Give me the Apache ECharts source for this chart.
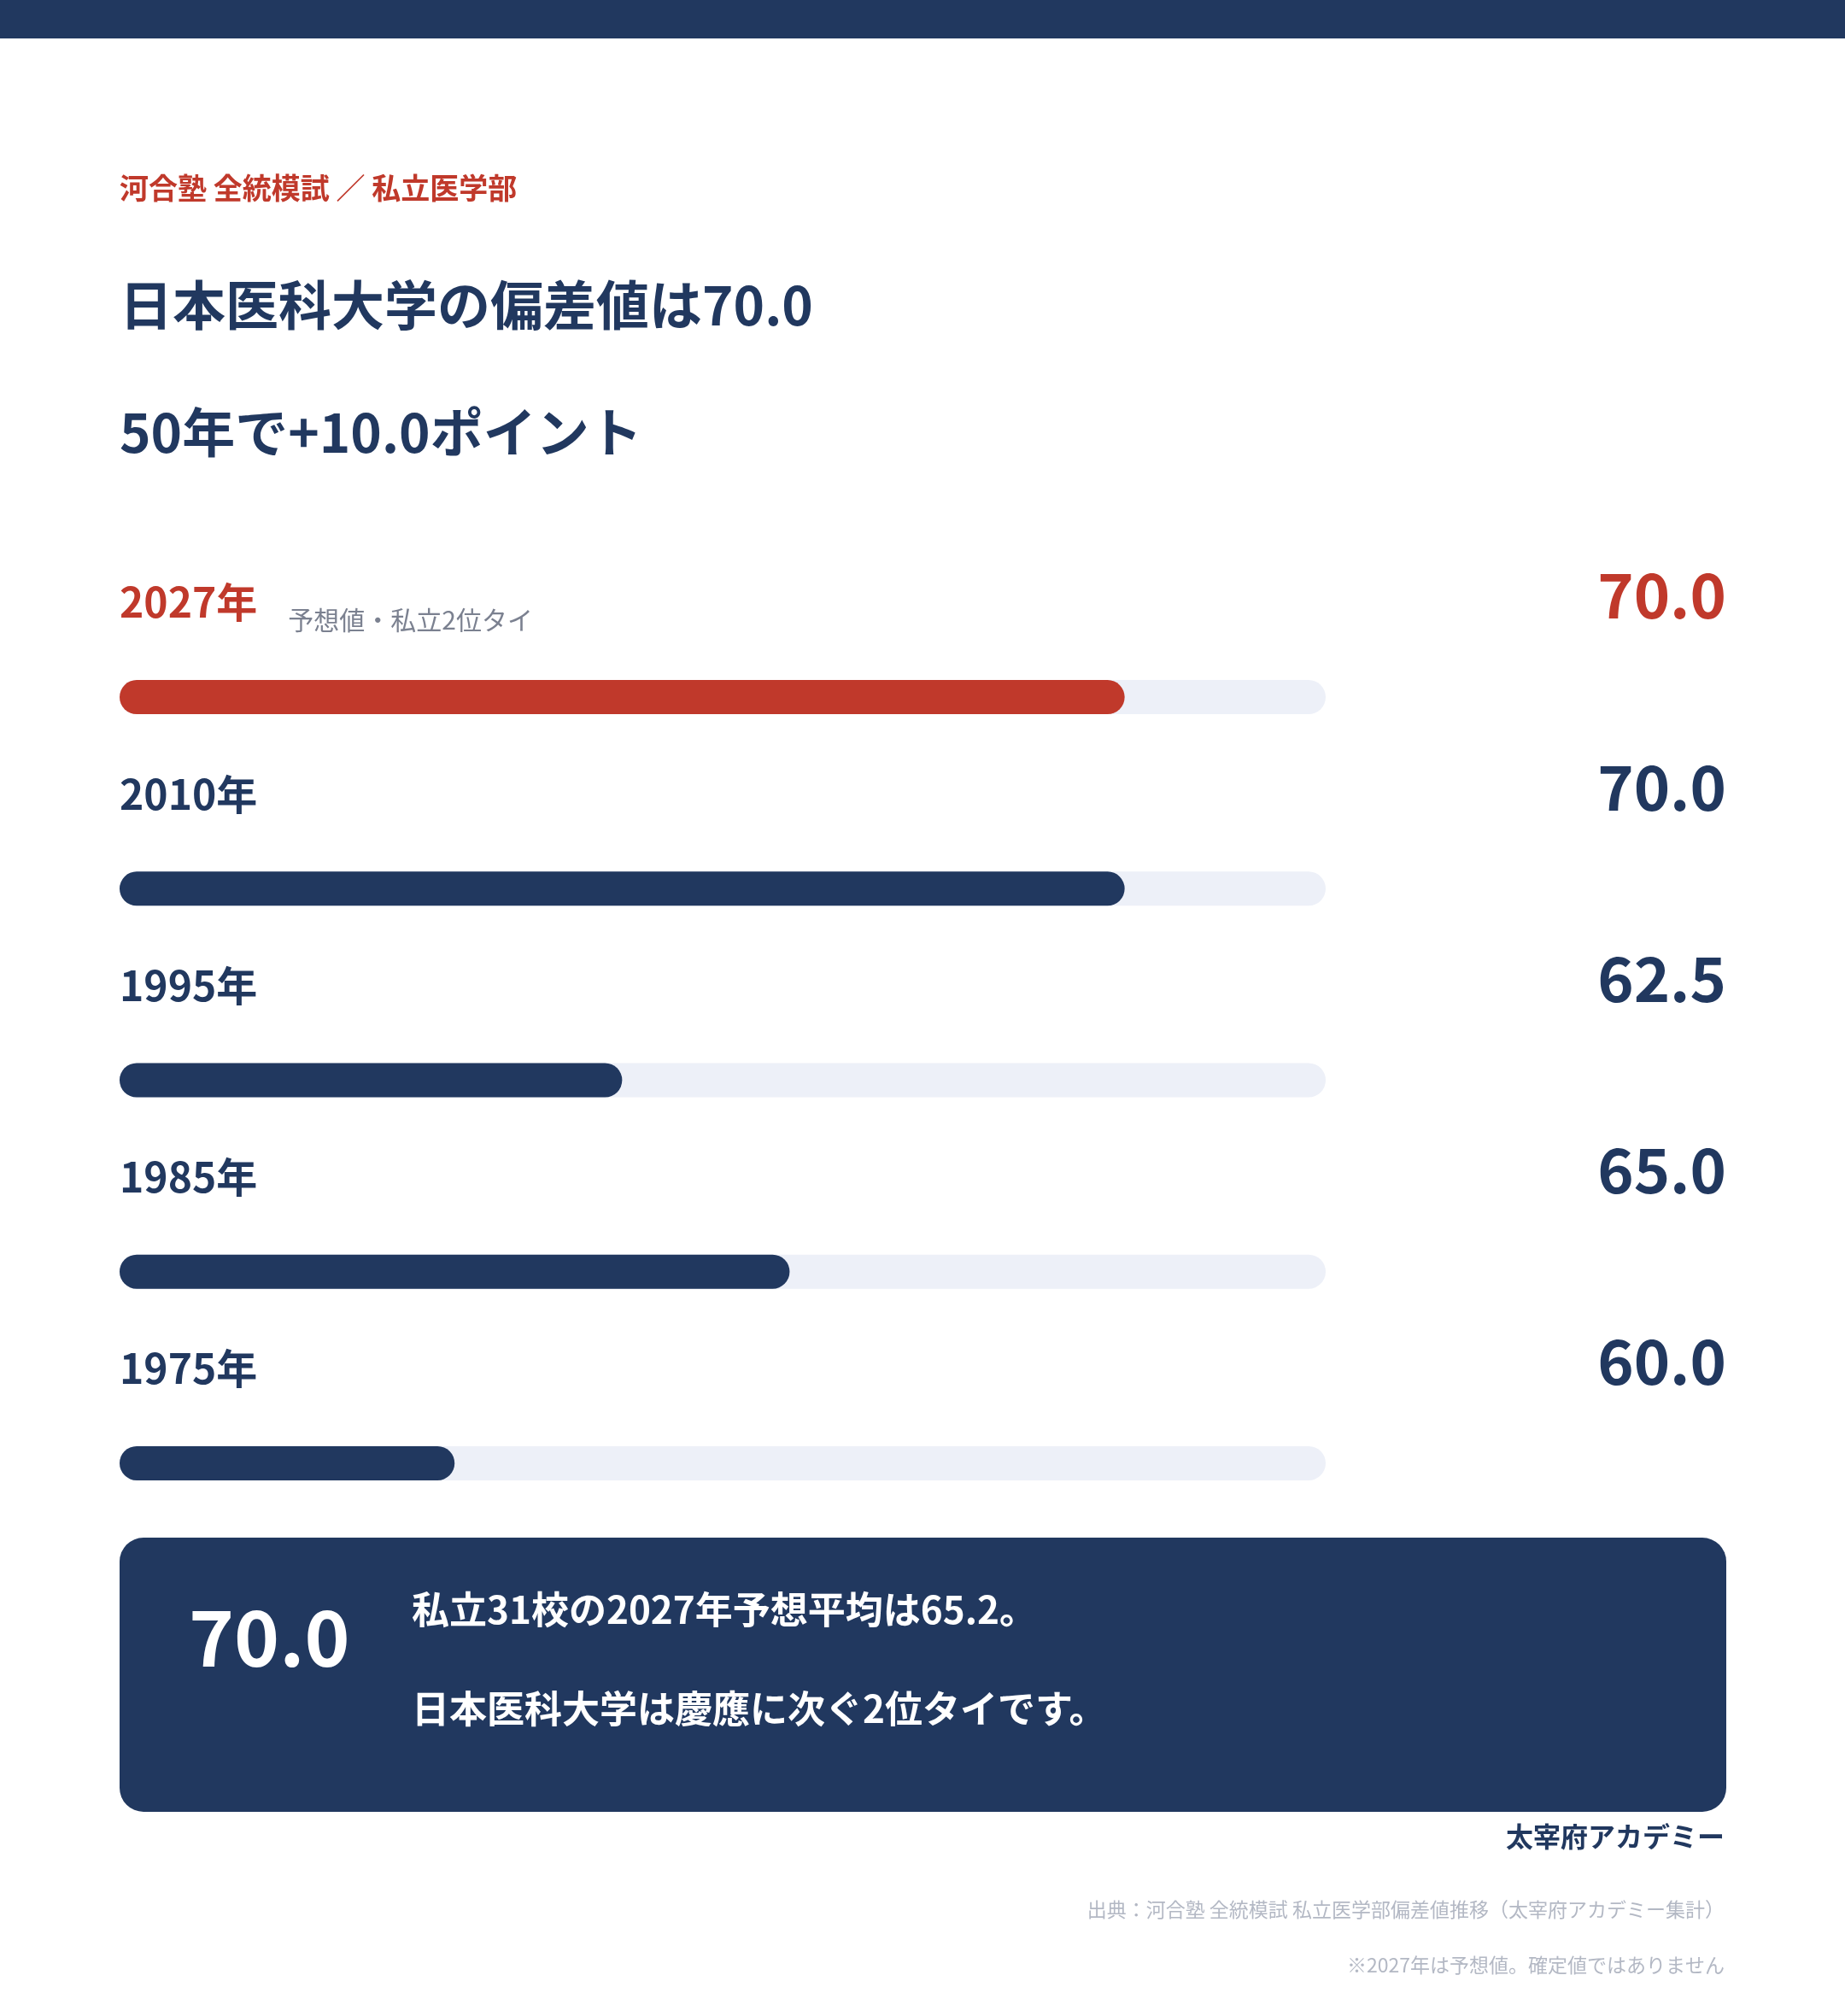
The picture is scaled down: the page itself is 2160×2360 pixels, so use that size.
<!DOCTYPE html>
<html>
<head>
<meta charset="utf-8">
<script src="https://cdn.jsdelivr.net/npm/echarts@6/dist/echarts.min.js"></script>
<style>
  html, body { margin: 0; padding: 0; background: #ffffff; }
  #main { width: 2160px; height: 2360px; }
</style>
</head>
<body>
<div id="main"></div>
<script>
// データ
const years = ['2027年', '2010年', '1995年', '1985年', '1975年'];
const scores = [70.0, 70.0, 62.5, 65.0, 60.0];
const noteFor2027 = '予想値・私立2位タイ';
const summaryLines = ['私立31校の2027年予想平均は65.2。', '日本医科大学は慶應に次ぐ2位タイです。'];

const NAVY = '#21385f';
const RED = '#c0392b';
const FONT = '"Noto Sans CJK JP", "Noto Sans", sans-serif';

const myChart = echarts.init(document.getElementById('main'), null, { renderer: 'canvas' });

const option = {
  backgroundColor: '#ffffff',
  animation: false,
  textStyle: { fontFamily: FONT },
  grid: { left: 140, right: 608, top: 704, bottom: 535, containLabel: false },
  xAxis: { type: 'value', min: 55, max: 73, show: false },
  yAxis: [
    {
      type: 'category',
      inverse: true,
      data: years,
      axisLine: { show: false },
      axisTick: { show: false },
      splitLine: { show: false },
      axisLabel: {
        inside: true,
        margin: 0,
        align: 'left',
        verticalAlign: 'middle',
        padding: [0, 0, 222, 0],
        formatter: function (v, i) {
          return i === 0 ? '{hl|' + v + '}{note|' + noteFor2027 + '}' : '{yr|' + v + '}';
        },
        rich: {
          yr: { fontSize: 48, fontWeight: 'bold', color: NAVY, fontFamily: FONT },
          hl: { fontSize: 48, fontWeight: 'bold', color: RED, fontFamily: FONT },
          note: { fontSize: 30, color: '#7b8190', fontFamily: FONT, padding: [40, 0, 0, 36] }
        }
      }
    },
    {
      type: 'category',
      inverse: true,
      position: 'right',
      data: scores.map(v => v.toFixed(1)),
      axisLine: { show: false },
      axisTick: { show: false },
      splitLine: { show: false },
      axisLabel: {
        margin: 469,
        align: 'right',
        verticalAlign: 'middle',
        padding: [0, 0, 238, 0],
        formatter: function (v, i) {
          return i === 0 ? '{hl|' + v + '}' : '{v|' + v + '}';
        },
        rich: {
          v: { fontSize: 72, fontWeight: 'bold', color: NAVY, fontFamily: FONT },
          hl: { fontSize: 72, fontWeight: 'bold', color: RED, fontFamily: FONT }
        }
      }
    }
  ],
  series: [
    {
      type: 'bar',
      yAxisIndex: 0,
      barWidth: 40,
      showBackground: true,
      backgroundStyle: { color: '#edf0f8', borderRadius: 20 },
      itemStyle: { borderRadius: 20 },
      data: scores.map((v, i) => ({ value: v, itemStyle: { color: i === 0 ? RED : NAVY } }))
    }
  ],
  graphic: [
    { type: 'rect', shape: { x: 0, y: 0, width: 2160, height: 45 }, style: { fill: NAVY } },
    { type: 'text', x: 140, y: 220, style: { text: '河合塾 全統模試 ／ 私立医学部', fill: RED, font: 'bold 34px ' + FONT, align: 'left', verticalAlign: 'middle' } },
    { type: 'text', x: 140, y: 357, style: { text: '日本医科大学の偏差値は' + scores[0].toFixed(1), fill: NAVY, font: 'bold 62px ' + FONT, align: 'left', verticalAlign: 'middle' } },
    { type: 'text', x: 140, y: 506, style: { text: '50年で+' + (scores[0] - scores[scores.length - 1]).toFixed(1) + 'ポイント', fill: NAVY, font: 'bold 62px ' + FONT, align: 'left', verticalAlign: 'middle' } },
    { type: 'rect', shape: { x: 140, y: 1800, width: 1881, height: 321, r: 28 }, style: { fill: NAVY } },
    { type: 'text', x: 221, y: 1917, style: { text: scores[0].toFixed(1), fill: '#ffffff', font: 'bold 90px ' + FONT, align: 'left', verticalAlign: 'middle' } },
    { type: 'text', x: 482, y: 1884, style: { text: summaryLines[0], fill: '#ffffff', font: 'bold 44px ' + FONT, align: 'left', verticalAlign: 'middle' } },
    { type: 'text', x: 482, y: 2000, style: { text: summaryLines[1], fill: '#ffffff', font: 'bold 44px ' + FONT, align: 'left', verticalAlign: 'middle' } },
    { type: 'text', x: 2019, y: 2150, style: { text: '太宰府アカデミー', fill: NAVY, font: 'bold 32px ' + FONT, align: 'right', verticalAlign: 'middle' } },
    { type: 'text', x: 2019, y: 2235, style: { text: '出典：河合塾 全統模試 私立医学部偏差値推移（太宰府アカデミー集計）', fill: '#b3b8c4', font: '23px ' + FONT, align: 'right', verticalAlign: 'middle' } },
    { type: 'text', x: 2019, y: 2300, style: { text: '※2027年は予想値。確定値ではありません', fill: '#b3b8c4', font: '23px ' + FONT, align: 'right', verticalAlign: 'middle' } }
  ]
};

myChart.setOption(option);
</script>
</body>
</html>
